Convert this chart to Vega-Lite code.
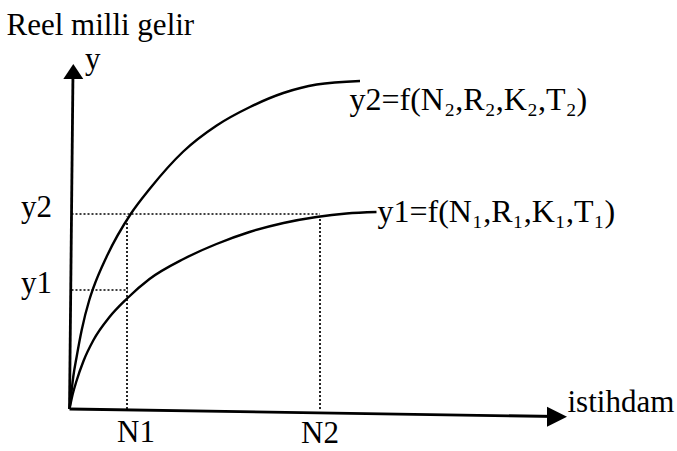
{
  "$schema": "https://vega.github.io/schema/vega-lite/v6.json",
  "width": 677,
  "height": 451,
  "autosize": {"type": "fit", "contains": "padding"},
  "padding": 0,
  "background": "white",
  "config": {"view": {"stroke": null}},
  "datasets": {
    "curves": [
      {"c": "y2", "x": 0, "y": 0},
      {"c": "y2", "x": 0.03, "y": 0.26},
      {"c": "y2", "x": 0.076, "y": 0.65},
      {"c": "y2", "x": 0.144, "y": 1.05},
      {"c": "y2", "x": 0.244, "y": 1.58},
      {"c": "y2", "x": 0.396, "y": 2.18},
      {"c": "y2", "x": 0.476, "y": 2.42},
      {"c": "y2", "x": 0.744, "y": 3.05},
      {"c": "y2", "x": 1.224, "y": 3.9},
      {"c": "y2", "x": 1.61, "y": 4.41},
      {"c": "y2", "x": 2.276, "y": 5.15},
      {"c": "y2", "x": 2.944, "y": 5.67},
      {"c": "y2", "x": 3.61, "y": 6.04},
      {"c": "y2", "x": 4.276, "y": 6.32},
      {"c": "y2", "x": 4.944, "y": 6.49},
      {"c": "y2", "x": 5.81, "y": 6.56},
      {"c": "y1", "x": 0, "y": 0},
      {"c": "y1", "x": 0.06, "y": 0.28},
      {"c": "y1", "x": 0.14, "y": 0.56},
      {"c": "y1", "x": 0.28, "y": 0.96},
      {"c": "y1", "x": 0.48, "y": 1.38},
      {"c": "y1", "x": 0.8, "y": 1.84},
      {"c": "y1", "x": 1.14, "y": 2.2},
      {"c": "y1", "x": 1.6, "y": 2.6},
      {"c": "y1", "x": 2.28, "y": 3.0},
      {"c": "y1", "x": 2.94, "y": 3.3},
      {"c": "y1", "x": 3.6, "y": 3.54},
      {"c": "y1", "x": 4.28, "y": 3.72},
      {"c": "y1", "x": 4.94, "y": 3.84},
      {"c": "y1", "x": 5.54, "y": 3.91},
      {"c": "y1", "x": 6.14, "y": 3.94}
    ],
    "axes": [
      {"name": "istihdam", "x": 0, "y": 0, "x2": 9.75, "y2": -0.15},
      {"name": "y", "x": 0, "y": 0, "x2": 0.07, "y2": 6.75}
    ],
    "guides": [
      {"name": "y2", "x": 0.04, "y": 3.9, "x2": 5.01, "y2": 3.9},
      {"name": "y1", "x": 0.04, "y": 2.38, "x2": 1.17, "y2": 2.38},
      {"name": "N1", "x": 1.15, "y": 0, "x2": 1.15, "y2": 3.85},
      {"name": "N2", "x": 5.01, "y": 0, "x2": 5.01, "y2": 3.8}
    ],
    "arrows": [
      {"dir": "up", "x": 0.076, "y": 6.75},
      {"dir": "right", "x": 9.75, "y": -0.154}
    ],
    "labels": [
      {"role": "title", "text": "Reel milli gelir", "x": -1.26, "y": 7.48},
      {"role": "axisname", "text": "y", "x": 0.31, "y": 6.8},
      {"role": "axisname", "text": "istihdam", "x": 9.96, "y": -0.06},
      {"role": "ytick", "text": "y2", "x": -0.35, "y": 3.84},
      {"role": "ytick", "text": "y1", "x": -0.35, "y": 2.32},
      {"role": "xtick", "text": "N1", "x": 1.33, "y": -0.66},
      {"role": "xtick", "text": "N2", "x": 5.01, "y": -0.68},
      {"role": "func", "text": "y2=f(N₂,R₂,K₂,T₂)", "x": 5.6, "y": 5.98},
      {"role": "func", "text": "y1=f(N₁,R₁,K₁,T₁)", "x": 6.16, "y": 3.74}
    ]
  },
  "encoding": {
    "x": {"field": "x", "type": "quantitative", "axis": null, "scale": {"domain": [-1.39, 12.15], "nice": false, "zero": false}},
    "y": {"field": "y", "type": "quantitative", "axis": null, "scale": {"domain": [-0.84, 8.18], "nice": false, "zero": false}}
  },
  "layer": [
    {
      "data": {"name": "guides"},
      "mark": {"type": "rule", "color": "#000", "strokeWidth": 1.7, "strokeDash": [2, 2]},
      "encoding": {"x2": {"field": "x2"}, "y2": {"field": "y2"}}
    },
    {
      "data": {"name": "axes"},
      "mark": {"type": "rule", "color": "#000", "strokeWidth": 2.8},
      "encoding": {"x2": {"field": "x2"}, "y2": {"field": "y2"}}
    },
    {
      "data": {"name": "curves"},
      "mark": {"type": "line", "color": "#000", "strokeWidth": 2.4, "interpolate": "monotone"},
      "encoding": {"detail": {"field": "c"}}
    },
    {
      "data": {"name": "arrows"},
      "transform": [{"filter": "datum.dir === 'up'"}],
      "mark": {"type": "point", "filled": true, "color": "#000", "opacity": 1, "strokeWidth": 0, "shape": "M0,-1L1.33,1L-1.33,1Z", "size": 225}
    },
    {
      "data": {"name": "arrows"},
      "transform": [{"filter": "datum.dir === 'right'"}],
      "mark": {"type": "point", "filled": true, "color": "#000", "opacity": 1, "strokeWidth": 0, "shape": "M1,0L-1,1L-1,-1Z", "size": 400}
    },
    {
      "data": {"name": "labels"},
      "transform": [{"filter": "datum.role === 'title' || datum.role === 'axisname'"}],
      "mark": {"type": "text", "font": "Liberation Serif, DejaVu Serif, serif", "fontSize": 31, "align": "left", "baseline": "alphabetic", "color": "#000"},
      "encoding": {"text": {"field": "text"}}
    },
    {
      "data": {"name": "labels"},
      "transform": [{"filter": "datum.role === 'ytick'"}],
      "mark": {"type": "text", "font": "Liberation Serif, DejaVu Serif, serif", "fontSize": 31, "align": "right", "baseline": "alphabetic", "color": "#000"},
      "encoding": {"text": {"field": "text"}}
    },
    {
      "data": {"name": "labels"},
      "transform": [{"filter": "datum.role === 'xtick'"}],
      "mark": {"type": "text", "font": "Liberation Serif, DejaVu Serif, serif", "fontSize": 31, "align": "center", "baseline": "alphabetic", "color": "#000"},
      "encoding": {"text": {"field": "text"}}
    },
    {
      "data": {"name": "labels"},
      "transform": [{"filter": "datum.role === 'func'"}],
      "mark": {"type": "text", "font": "Liberation Serif, DejaVu Serif, serif", "fontSize": 32, "align": "left", "baseline": "alphabetic", "color": "#000"},
      "encoding": {"text": {"field": "text"}}
    }
  ]
}
